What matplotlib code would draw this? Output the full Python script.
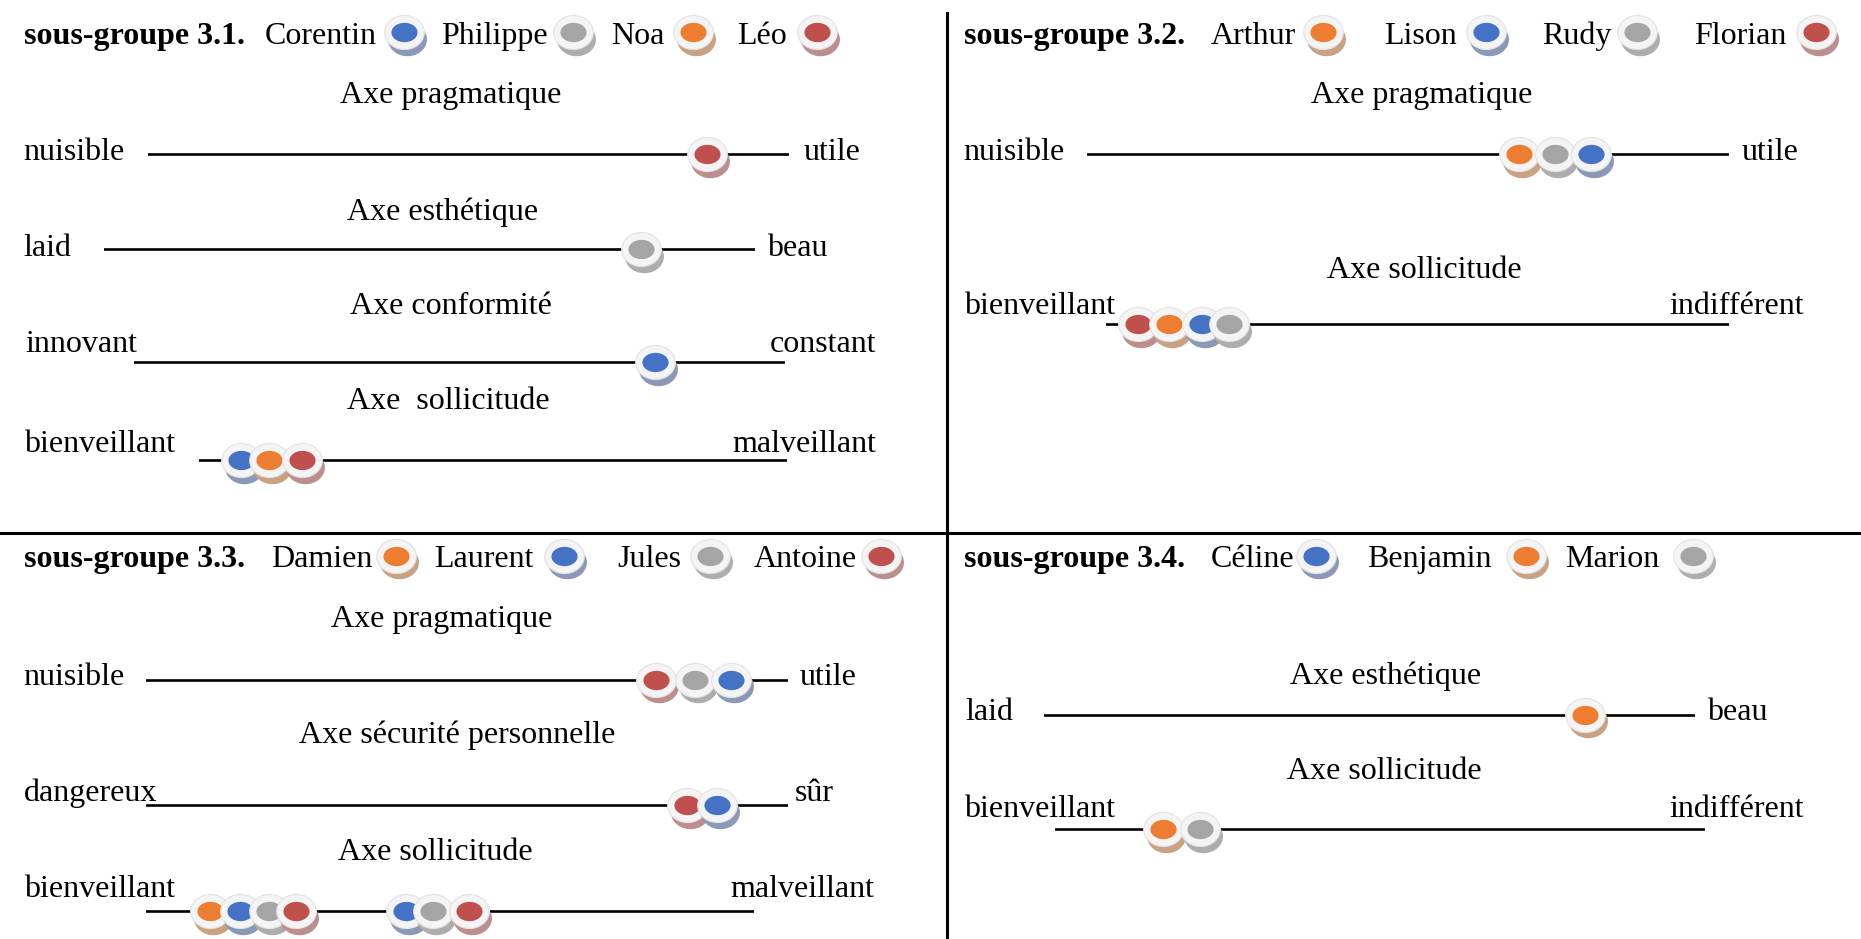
import matplotlib
matplotlib.use('Agg')
import matplotlib.pyplot as plt
from matplotlib.path import Path
from matplotlib.transforms import ScaledTranslation
import numpy as np

# ---------------- data ----------------
BLUE, ORANGE, GRAY, RED = '#4472C4', '#ED7D31', '#A5A5A5', '#C0504D'
SHADOW = {BLUE: '#8A9AB6', ORANGE: '#C9A284', GRAY: '#ADADAD', RED: '#BC8E8E'}

g31_title = 'sous-groupe 3.1.'
g31_names = ['Corentin', 'Philippe', 'Noa', 'Léo']
g31_colors = [BLUE, GRAY, ORANGE, RED]
g32_title = 'sous-groupe 3.2.'
g32_names = ['Arthur', 'Lison', 'Rudy', 'Florian']
g32_colors = [ORANGE, BLUE, GRAY, RED]
g33_title = 'sous-groupe 3.3.'
g33_names = ['Damien', 'Laurent', 'Jules', 'Antoine']
g33_colors = [ORANGE, BLUE, GRAY, RED]
g34_title = 'sous-groupe 3.4.'
g34_names = ['Céline', 'Benjamin', 'Marion']
g34_colors = [BLUE, ORANGE, GRAY]

# positions on each axis: 0 = left pole, 100 = right pole (drawn left to right)
g31_pragmatique = [('Léo', 87.2)]
g31_esthetique = [('Philippe', 82.5)]
g31_conformite = [('Corentin', 80.1)]
g31_sollicitude = [('Corentin', 7.1), ('Noa', 11.9), ('Léo', 17.5)]
g32_pragmatique = [('Arthur', 67.3), ('Rudy', 72.8), ('Lison', 78.5)]
g32_sollicitude = [('Florian', 5.1), ('Arthur', 10.1), ('Lison', 15.4), ('Rudy', 19.7)]
g33_pragmatique = [('Antoine', 79.5), ('Jules', 85.5), ('Laurent', 91.1)]
g33_securite = [('Antoine', 84.3), ('Laurent', 89.0)]
g33_sollicitude = [('Damien', 10.6), ('Laurent', 15.5), ('Jules', 20.2), ('Antoine', 24.7),
                   ('Laurent', 42.8), ('Jules', 47.3), ('Antoine', 53.2)]
g34_esthetique = [('Benjamin', 83.1)]
g34_sollicitude = [('Benjamin', 16.7), ('Marion', 22.4)]

# ---------------- layout ----------------
W, H = 1568.0, 791.0          # layout units
FS = 23
FONT = 'Liberation Serif'
DY = 2.5

fig = plt.figure(figsize=(18.61, 9.39), dpi=100)
fig.patch.set_facecolor('white')
bg = fig.add_axes([0, 0, 1, 1])
bg.set_xlim(0, W)
bg.set_ylim(H, 0)
bg.axis('off')


def ellipse_path(ry):
    t = np.linspace(0, 2 * np.pi, 73)
    return Path(np.column_stack([np.cos(t), ry * np.sin(t)]), closed=True)


OUTER = ellipse_path(0.86)
INNER = ellipse_path(0.74)


def token(ax, x, y, color, z):
    base = ax.transData
    sh = base + ScaledTranslation(0.03, -0.065, fig.dpi_scale_trans)
    kw = dict(linestyle='none', clip_on=False)
    ax.plot([x], [y], marker=OUTER, ms=28, mfc=SHADOW[color], mec='none',
            transform=sh, zorder=z, **kw)
    ax.plot([x], [y], marker=OUTER, ms=28.5, mfc='#F4F4F4', mec='#E2E2E2', mew=0.8,
            transform=base, zorder=z + 0.1, **kw)
    ax.plot([x], [y], marker=INNER, ms=18.8, mfc=color, mec='none',
            transform=base, zorder=z + 0.2, **kw)


def txt(x, y, s, ha='left', bold=False):
    bg.text(x, y + DY, s, ha=ha, va='center', fontsize=FS, family=FONT,
            fontweight='bold' if bold else 'normal', zorder=5)


def header(title, names, colors, name_x, mark_x, x0, y):
    txt(x0, y, title, bold=True)
    for n, nx in zip(names, name_x):
        txt(nx, y, n)
    for i, (c, mx) in enumerate(zip(colors, mark_x)):
        token(bg, mx, y - 1, c, 10 + i)


def scale(x0, x1, y, entries, names, colors):
    cmap = dict(zip(names, colors))
    h = 40 / H
    a = fig.add_axes([x0 / W, 1 - y / H - h / 2, (x1 - x0) / W, h])
    a.set_xlim(0, 100)
    a.set_ylim(-1, 1)
    a.axis('off')
    a.patch.set_visible(False)
    a.axhline(0, color='black', lw=1.9, zorder=1)
    for i, (n, v) in enumerate(entries):
        token(a, v, 0, cmap[n], 3 + i)


# dividers
bg.axvline(798, ymin=0, ymax=1 - 10.7 / H, color='black', lw=2.2)
bg.axhline(449.4, color='black', lw=2.2)

# ---- sous-groupe 3.1 ----
header(g31_title, g31_names, g31_colors, [223, 372, 515, 621], [340, 483, 584, 688], 20, 28)
txt(380, 78, 'Axe pragmatique', ha='center')
txt(20, 126, 'nuisible'); txt(677, 126, 'utile')
scale(124.5, 665, 130, g31_pragmatique, g31_names, g31_colors)
txt(373, 176, 'Axe esthétique', ha='center')
txt(20, 207, 'laid'); txt(646, 207, 'beau')
scale(87.7, 636, 209.8, g31_esthetique, g31_names, g31_colors)
txt(380, 255.5, 'Axe conformité', ha='center')
txt(21, 288, 'innovant'); txt(738, 288, 'constant', ha='right')
scale(113, 661.4, 305.3, g31_conformite, g31_names, g31_colors)
txt(378, 336, 'Axe  sollicitude', ha='center')
txt(20, 372, 'bienveillant'); txt(738, 372, 'malveillant', ha='right')
scale(167.5, 663.4, 387.8, g31_sollicitude, g31_names, g31_colors)

# ---- sous-groupe 3.2 ----
header(g32_title, g32_names, g32_colors, [1020, 1166, 1299, 1427], [1115, 1252, 1379, 1530], 812, 28)
txt(1198, 78, 'Axe pragmatique', ha='center')
txt(812, 126, 'nuisible'); txt(1467, 126, 'utile')
scale(916, 1457, 130, g32_pragmatique, g32_names, g32_colors)
txt(1200, 225, 'Axe sollicitude', ha='center')
txt(812, 256, 'bienveillant'); txt(1520, 256, 'indifférent', ha='right')
scale(932, 1457, 273, g32_sollicitude, g32_names, g32_colors)

# ---- sous-groupe 3.3 ----
header(g33_title, g33_names, g33_colors, [228, 366, 520, 635], [334, 475, 598, 742], 20, 469)
txt(372, 519, 'Axe pragmatique', ha='center')
txt(20, 568, 'nuisible'); txt(674, 568, 'utile')
scale(123, 664, 572.5, g33_pragmatique, g33_names, g33_colors)
txt(385, 617, 'Axe sécurité personnelle', ha='center')
txt(20, 666, 'dangereux'); txt(670, 666, 'sûr')
scale(123, 664, 678.5, g33_securite, g33_names, g33_colors)
txt(367, 715.6, 'Axe sollicitude', ha='center')
txt(20, 747, 'bienveillant'); txt(737, 747, 'malveillant', ha='right')
scale(123, 635, 767.6, g33_sollicitude, g33_names, g33_colors)

# ---- sous-groupe 3.4 ----
header(g34_title, g34_names, g34_colors, [1020, 1152, 1319], [1108.6, 1285.6, 1426.5], 812, 469)
txt(1167, 567, 'Axe esthétique', ha='center')
txt(813, 598, 'laid'); txt(1438, 598, 'beau')
scale(880, 1428.5, 602, g34_esthetique, g34_names, g34_colors)
txt(1166, 647, 'Axe sollicitude', ha='center')
txt(812, 679, 'bienveillant'); txt(1520, 679, 'indifférent', ha='right')
scale(888.6, 1436.4, 698.5, g34_sollicitude, g34_names, g34_colors)

fig.savefig('out.png', dpi=100, facecolor='white')
